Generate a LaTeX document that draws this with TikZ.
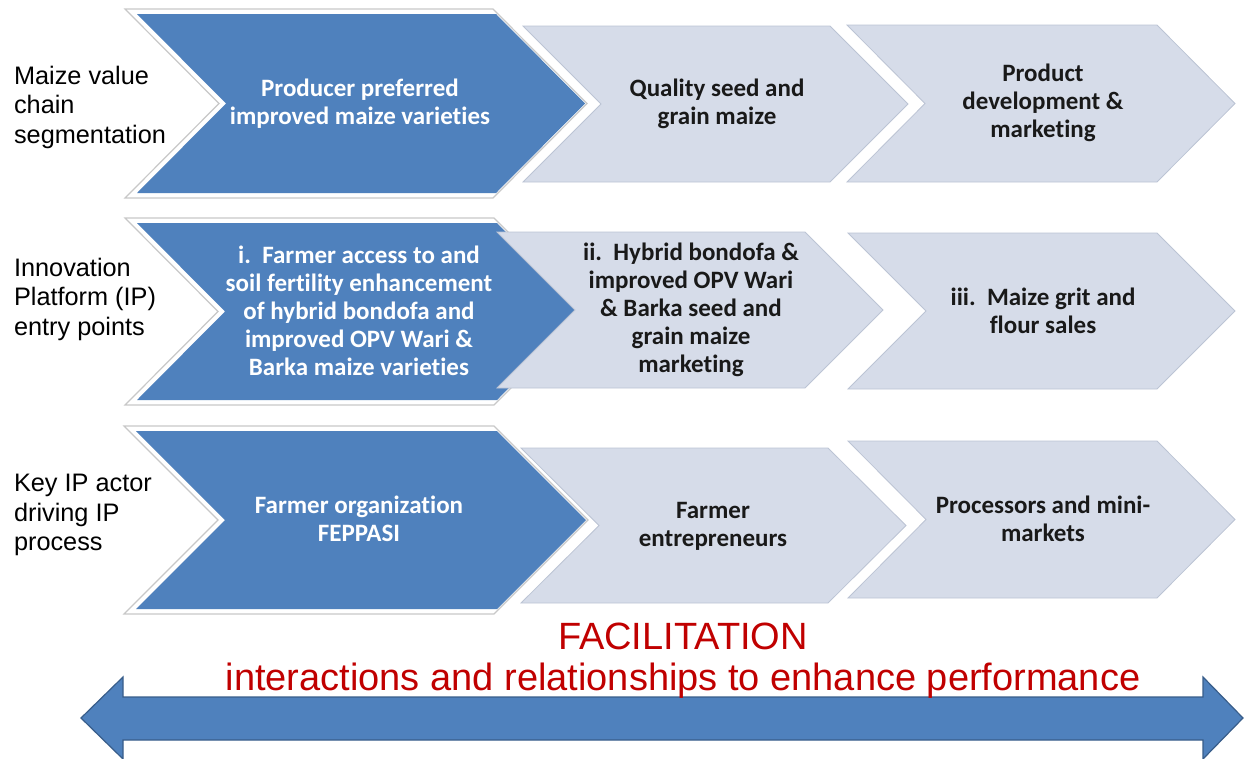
\documentclass[tikz,border=0pt]{standalone}
\usepackage{fontspec}
\setmainfont{Carlito}[Ligatures=NoCommon]
\newfontfamily\arialf{Liberation Sans}
\definecolor{darkblue}{HTML}{4F81BD}
\definecolor{lightblue}{HTML}{D6DCE9}
\definecolor{lightedge}{HTML}{BCC4D4}
\definecolor{chevoutline}{HTML}{C8C8C8}
\definecolor{arrowedge}{HTML}{385D8A}
\definecolor{facred}{HTML}{C00000}
% #1 style, #2 x, #3 top, #4 width, #5 height, #6 depth
\newcommand\mychev[6]{\path[#1] (#2,#3) -- ++(#4-#6,0) -- ++(#6,#5/2) -- ++(-#6,#5/2) -- ++(-#4+#6,0) -- ++(#6,-#5/2) -- cycle;}
\tikzset{
  darkchev/.style={fill=darkblue},
  outerchev/.style={fill=white, draw=chevoutline, line width=1.2pt},
  lightchev/.style={fill=lightblue, draw=lightedge, line width=0.8pt},
  darktxt/.style={align=center, text=white, font=\bfseries\fontsize{25}{28}\selectfont},
  lighttxt/.style={align=center, text=black!90, font=\bfseries\fontsize{25}{28}\selectfont},
  rowlabel/.style={align=left, anchor=west, text=black, font=\arialf\fontsize{25.3}{29.5}\selectfont},
  redtxt/.style={text=facred, font=\arialf\fontsize{38}{44}\selectfont},
  bigarrow/.style={fill=darkblue, draw=arrowedge, line width=1.2pt, line join=miter}
}
\begin{document}
\begin{tikzpicture}[x=1pt,y=-1pt]
\useasboundingbox (0,0) rectangle (1244,758);
% row 1
\mychev{outerchev}{125}{9}{462}{189}{94}
\mychev{darkchev}{137}{14}{448}{179}{89}
\mychev{lightchev}{523}{26}{385}{156}{78}
\mychev{lightchev}{847}{25}{388}{157}{78}
% row 2
\mychev{outerchev}{125}{218}{462}{187}{93}
\mychev{darkchev}{137}{223}{448}{177}{88}
\mychev{lightchev}{497}{232}{386}{156}{78}
\mychev{lightchev}{848}{233}{387}{156}{78}
% row 3
\mychev{outerchev}{124}{426}{464}{188}{94}
\mychev{darkchev}{136}{431}{450}{178}{89}
\mychev{lightchev}{521}{448}{385}{155}{78}
\mychev{lightchev}{848}{441}{387}{157}{78}
% row labels
\node[rowlabel] (l1) at (10.5,107) {Maize value\\chain\\segmentation};
\node[rowlabel] (l2) at (10.5,299) {Innovation\\Platform (IP)\\entry points};
\node[rowlabel] (l3) at (10.5,515) {Key IP actor\\driving IP\\process};
% texts row 1
\node[darktxt] (a1) at (360,104) {Producer preferred\\improved maize varieties};
\node[lighttxt] (b1) at (717,104) {Quality seed and\\grain maize};
\node[lighttxt] (c1) at (1043,103) {Product\\development \&\\marketing};
% texts row 2
\node[darktxt] (a2) at (359,311) {i.\ \ Farmer access to and\\soil fertility enhancement\\of hybrid bondofa and\\improved OPV Wari \&\\Barka maize varieties};
\node[lighttxt] (b2) at (691,310) {ii.\ \ Hybrid bondofa \&\\improved OPV Wari\\\& Barka seed and\\grain maize\\marketing};
\node[lighttxt] (c2) at (1043,311) {iii.\ \ Maize grit and\\flour sales};
% texts row 3
\node[darktxt] (a3) at (359,519) {Farmer organization\\FEPPASI};
\node[lighttxt] (b3) at (713,526) {Farmer\\entrepreneurs};
\node[lighttxt] (c3) at (1043,519) {Processors and mini-\\markets};
% double arrow
\path[bigarrow] (81,718) -- (123,677) -- (123,697) -- (1203,697) -- (1203,677) -- (1243,718) -- (1203,759) -- (1203,740) -- (123,740) -- (123,759) -- cycle;
% facilitation text
\node[redtxt] (f1) at (683,636) {FACILITATION};
\node[redtxt] (f2) at (683,681) {interactions and relationships to enhance performance};
\end{tikzpicture}
\end{document}
